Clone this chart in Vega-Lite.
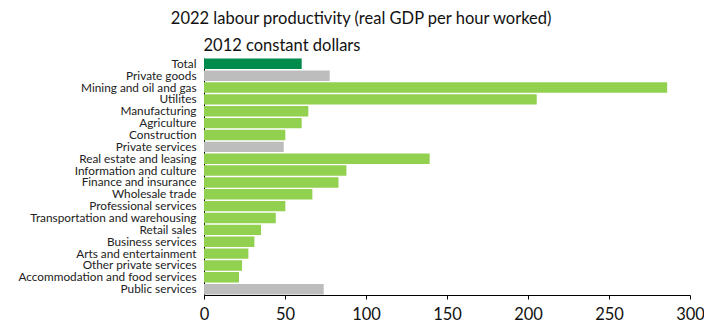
{
  "$schema": "https://vega.github.io/schema/vega-lite/v6.json",
  "width": 486,
  "height": 237,
  "autosize": {"type": "none"},
  "padding": {"left": 204, "top": 58, "right": 14, "bottom": 31},
  "background": "white",
  "title": {
    "text": "2022 labour productivity (real GDP per hour worked)",
    "anchor": "middle",
    "frame": "bounds",
    "font": "Lato",
    "fontSize": 16.5,
    "fontWeight": "normal",
    "color": "#111111",
    "offset": 10
  },
  "config": {
    "view": {"stroke": null},
    "font": "Lato"
  },
  "data": {
    "values": [
      {"sector": "Total", "value": 60.3, "group": "total"},
      {"sector": "Private goods", "value": 77.6, "group": "aggregate"},
      {"sector": "Mining and oil and gas", "value": 285.9, "group": "industry"},
      {"sector": "Utilites", "value": 205.4, "group": "industry"},
      {"sector": "Manufacturing", "value": 64.4, "group": "industry"},
      {"sector": "Agriculture", "value": 60.3, "group": "industry"},
      {"sector": "Construction", "value": 50.2, "group": "industry"},
      {"sector": "Private services", "value": 49.2, "group": "aggregate"},
      {"sector": "Real estate and leasing", "value": 139.3, "group": "industry"},
      {"sector": "Information and culture", "value": 87.9, "group": "industry"},
      {"sector": "Finance and insurance", "value": 83.0, "group": "industry"},
      {"sector": "Wholesale trade", "value": 66.9, "group": "industry"},
      {"sector": "Professional services", "value": 50.2, "group": "industry"},
      {"sector": "Transportation and warehousing", "value": 44.3, "group": "industry"},
      {"sector": "Retail sales", "value": 35.2, "group": "industry"},
      {"sector": "Business services", "value": 31.1, "group": "industry"},
      {"sector": "Arts and entertainment", "value": 27.4, "group": "industry"},
      {"sector": "Other private services", "value": 23.5, "group": "industry"},
      {"sector": "Accommodation and food services", "value": 21.6, "group": "industry"},
      {"sector": "Public services", "value": 73.9, "group": "aggregate"}
    ]
  },
  "mark": {"type": "bar", "cornerRadius": 0},
  "encoding": {
    "y": {
      "field": "sector",
      "type": "nominal",
      "sort": null,
      "scale": {"paddingInner": 0.12, "paddingOuter": 0.05},
      "axis": {
        "title": "2012 constant dollars",
        "titleAngle": 0,
        "titleAlign": "left",
        "titleBaseline": "bottom",
        "titleX": -1,
        "titleY": -5,
        "titleFont": "Lato",
        "titleFontSize": 16.5,
        "titleFontWeight": "normal",
        "titleColor": "#111111",
        "labelFont": "Lato",
        "labelFontSize": 11.8,
        "labelLimit": 0,
        "labelColor": "#222222",
        "labelPadding": 8,
        "ticks": false,
        "domainColor": "#000000",
        "domainWidth": 1
      }
    },
    "x": {
      "field": "value",
      "type": "quantitative",
      "scale": {"domain": [0, 300], "nice": false},
      "axis": {
        "title": null,
        "values": [0, 50, 100, 150, 200, 250, 300],
        "grid": false,
        "labelFont": "Lato",
        "labelFontSize": 16.5,
        "labelColor": "#111111",
        "labelPadding": 7,
        "tickSize": 4,
        "tickColor": "#000000",
        "domainColor": "#000000",
        "labelFlush": false
      }
    },
    "color": {
      "field": "group",
      "type": "nominal",
      "scale": {
        "domain": ["total", "aggregate", "industry"],
        "range": ["#008A4B", "#BDBDBD", "#92D050"]
      },
      "legend": null
    }
  }
}
